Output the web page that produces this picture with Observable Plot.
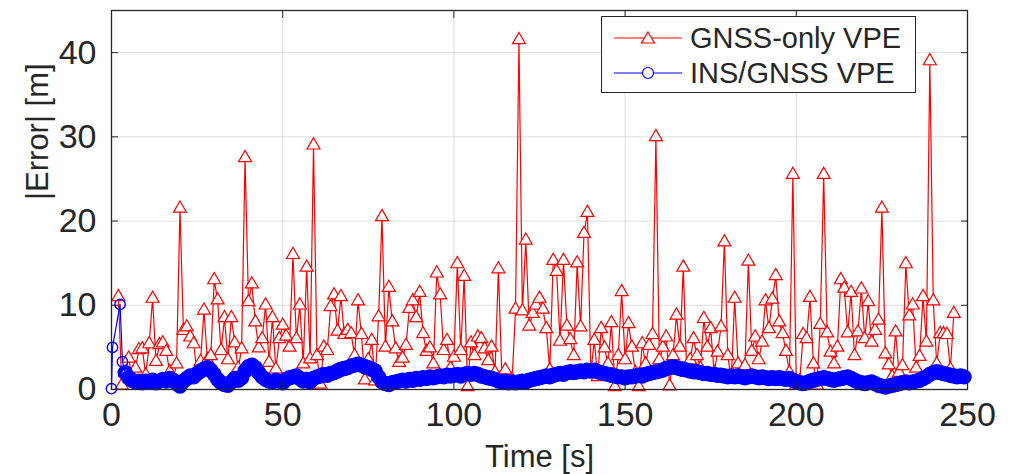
<!DOCTYPE html>
<html><head><meta charset="utf-8">
<script src="https://cdn.jsdelivr.net/npm/d3@7"></script>
<script src="https://cdn.jsdelivr.net/npm/@observablehq/plot@0.6"></script>
<style>
body{margin:0;background:#fff;}
#wrap{position:relative;width:1013px;height:474px;font-family:"Liberation Sans",Arial,Helvetica,sans-serif;}
#legend{position:absolute;left:601px;top:16px;width:313px;height:75px;border:1.5px solid #262626;background:#fff;color:#262626;}
.row{position:absolute;left:0;height:34px;display:flex;align-items:center;}
.row svg{margin-left:12px;}
.row span{font-size:29px;margin-left:8px;white-space:nowrap;}
</style>
</head><body>
<div id="wrap"><div id="legend">
<div class="row" style="top:4px"><svg width="68" height="30"><line x1="0" x2="68" y1="15" y2="15" stroke="#ff0000" stroke-width="1.2"/><path d="M34,9 L40.5,20 L27.5,20 Z" fill="#fff" stroke="#ff0000" stroke-width="1.2"/></svg><span>GNSS-only VPE</span></div>
<div class="row" style="top:39px"><svg width="68" height="30"><line x1="0" x2="68" y1="15" y2="15" stroke="#0000ff" stroke-width="1.2"/><circle cx="34" cy="15" r="5.5" fill="#fff" stroke="#0000ff" stroke-width="1.2"/></svg><span>INS/GNSS VPE</span></div>
</div></div>
<script>
const xTicks = [0, 50, 100, 150, 200, 250];
const yTicks = [0, 10, 20, 30, 40];
const xLabel = "Time [s]";
const yLabel = "|Error| [m]";
const seriesNames = ["GNSS-only VPE", "INS/GNSS VPE"];

// GNSS-only vertical position error, 1 s steps starting at t = 2 s
const redStart = 2;
const redValues = [
 11.0, 0.5, 2.0, 3.7, 1.5, 2.5, 4.7, 4.8, 1.7, 5.4,
 10.8, 3.3, 5.3, 5.5, 4.5, 2.1, 1.2, 3.0, 21.5, 7.0,
 7.4, 6.2, 5.4, 2.0, 3.3, 9.4, 3.5, 4.0, 13.0, 10.6,
 4.6, 8.5, 3.5, 8.5, 5.5, 2.5, 4.8, 27.5, 10.4, 12.5,
 8.0, 4.9, 6.0, 10.0, 3.2, 8.5, 2.4, 6.0, 7.6, 6.3,
 5.0, 16.0, 6.0, 10.0, 3.0, 14.5, 3.6, 29.0, 4.0, 0.6,
 5.0, 4.6, 9.8, 11.2, 6.9, 11.0, 6.5, 7.0, 6.6, 4.0,
 10.5, 6.5, 1.1, 3.5, 5.8, 1.0, 8.6, 20.5, 5.0, 12.1,
 8.0, 4.8, 3.2, 3.7, 5.2, 9.6, 10.5, 8.5, 11.5, 6.6,
 4.5, 4.9, 3.0, 13.8, 11.2, 4.6, 5.8, 2.5, 3.8, 14.9,
 4.6, 13.4, 0.3, 5.5, 4.0, 6.2, 6.0, 4.8, 3.4, 5.0,
 2.0, 14.3, 1.5, 2.3, 0.8, 1.2, 9.5, 41.5, 9.3, 17.7,
 7.5, 9.0, 10.0, 10.8, 9.5, 7.2, 2.3, 15.3, 14.0, 5.7,
 15.3, 7.5, 5.9, 4.0, 15.0, 7.4, 18.5, 21.0, 2.0, 5.8,
 1.5, 7.2, 4.9, 3.0, 7.9, 0.3, 4.0, 11.6, 3.5, 7.8,
 5.0, 2.0, 0.3, 5.4, 3.0, 5.2, 6.5, 30.0, 3.5, 5.0,
 6.2, 0.4, 4.0, 8.8, 5.0, 14.5, 2.0, 3.5, 6.0, 4.0,
 2.5, 8.4, 5.0, 7.2, 2.0, 4.4, 7.4, 17.5, 4.0, 1.2,
 10.8, 3.0, 1.5, 2.8, 15.2, 4.5, 6.2, 3.5, 5.6, 10.5,
 7.2, 10.7, 13.5, 8.0, 6.6, 4.5, 2.0, 25.5, 0.5, 1.0,
 6.5, 6.0, 10.9, 3.0, 0.5, 7.7, 25.5, 6.7, 4.4, 3.0,
 5.0, 13.0, 12.0, 6.7, 11.5, 4.0, 6.8, 11.9, 6.0, 10.4,
 5.6, 7.0, 8.2, 21.5, 4.2, 2.9, 1.5, 6.8, 2.0, 2.8,
 14.9, 8.7, 10.0, 2.5, 3.9, 11.0, 5.6, 39.0, 10.5, 3.0,
 6.6, 6.6, 6.5, 2.4, 9.0
];

// INS/GNSS vertical position error: initial transient, then 1 s steps from t = 4 s
const blueHeadTimes = [0, 0.3, 2.5, 3.2];
const blueHeadValues = [0.1, 5.0, 10.1, 3.3];
const blueStart = 4;
const blueValues = [
 2.0, 1.4, 1.1, 0.9, 1.0, 0.8, 1.0, 0.9, 1.1, 0.8,
 1.0, 1.2, 1.0, 1.3, 1.1, 0.7, 0.4, 1.0, 1.3, 1.6,
 1.5, 1.9, 2.2, 2.4, 2.6, 2.3, 1.8, 1.2, 0.8, 0.6,
 0.5, 0.9, 1.3, 1.1, 1.4, 2.2, 2.7, 2.9, 2.6, 2.0,
 1.5, 1.2, 1.0, 0.9, 1.1, 1.0, 0.8, 1.2, 1.4, 1.5,
 1.6, 1.3, 1.0, 1.2, 0.9, 1.3, 1.5, 1.6, 1.8, 1.7,
 1.9, 2.0, 2.2, 2.4, 2.5, 2.6, 2.8, 2.9, 3.0, 2.9,
 2.7, 2.6, 2.4, 2.2, 1.5, 0.9, 0.7, 0.6, 0.8, 0.9,
 1.0, 1.1, 1.0, 1.2, 1.1, 1.3, 1.2, 1.4, 1.3, 1.5,
 1.4, 1.5, 1.6, 1.5, 1.7, 1.6, 1.7, 1.8, 1.6, 1.8,
 1.9, 1.8, 1.9, 1.8, 1.6, 1.5, 1.4, 1.3, 1.2, 1.0,
 0.9, 1.0, 0.8, 0.9, 0.8, 0.9, 1.0, 0.9, 1.1, 1.2,
 1.3, 1.4, 1.5, 1.6, 1.5, 1.7, 1.8, 1.9, 1.8, 2.0,
 2.1, 2.0, 2.1, 2.2, 2.1, 2.3, 2.2, 2.3, 2.1, 2.0,
 1.9, 1.8, 1.7, 1.6, 1.5, 1.5, 1.4, 1.5, 1.5, 1.6,
 1.7, 1.6, 1.8, 1.9, 2.0, 2.1, 2.2, 2.3, 2.5, 2.6,
 2.7, 2.6, 2.5, 2.4, 2.3, 2.2, 2.1, 2.1, 2.0, 1.9,
 1.9, 1.8, 1.8, 1.7, 1.7, 1.6, 1.5, 1.6, 1.5, 1.6,
 1.5, 1.4, 1.5, 1.6, 1.5, 1.4, 1.5, 1.4, 1.3, 1.4,
 1.3, 1.4, 1.3, 1.2, 1.3, 1.1, 0.9, 0.8, 0.7, 0.8,
 1.0, 1.1, 1.2, 1.3, 1.4, 1.3, 1.2, 1.1, 1.2, 1.3,
 1.4, 1.5, 1.3, 1.1, 0.9, 0.8, 0.7, 0.8, 0.9, 0.7,
 0.5, 0.4, 0.3, 0.4, 0.5, 0.6, 0.7, 0.8, 0.9, 0.8,
 0.9, 1.0, 1.1, 1.3, 1.5, 1.8, 2.0, 2.1, 2.0, 1.9,
 1.8, 1.7, 1.6, 1.5, 1.6, 1.5
];

const red = redValues.map((v, i) => ({t: redStart + i, v}));
const blueHead = blueHeadTimes.map((t, i) => ({t, v: blueHeadValues[i]}));
const blueBody = blueValues.map((v, i) => ({t: blueStart + i, v}));
const blue = blueHead.concat(blueBody);

const axisColor = "#262626";
const fontFamily = '"Liberation Sans", Arial, Helvetica, sans-serif';
const chart = Plot.plot({
  width: 1013,
  height: 474,
  marginLeft: 111,
  marginRight: 46,
  marginTop: 10,
  marginBottom: 85,
  style: {fontFamily, fontSize: "34px", color: axisColor, background: "#fff"},
  x: {domain: [0, 250]},
  y: {domain: [0, 45]},
  marks: [
    Plot.gridX(xTicks, {stroke: "#000", strokeOpacity: 0.13, strokeWidth: 1}),
    Plot.gridY(yTicks, {stroke: "#000", strokeOpacity: 0.13, strokeWidth: 1}),
    Plot.line(red, {x: "t", y: "v", stroke: "#ff0000", strokeWidth: 1.2}),
    Plot.dot(red, {x: "t", y: "v", symbol: "triangle", r: 4.8, stroke: "#ff0000", fill: "#fff", strokeWidth: 1.2}),
    Plot.line(blue, {x: "t", y: "v", stroke: "#0000ff", strokeWidth: 1.2}),
    Plot.dot(blueBody, {x: "t", y: "v", symbol: "circle", r: 5.2, stroke: "#0000ff", fill: "none", strokeWidth: 5}),
    Plot.dot(blueHead, {x: "t", y: "v", symbol: "circle", r: 5.2, stroke: "#0000ff", fill: "none", strokeWidth: 1.4}),
    Plot.frame({stroke: axisColor, strokeWidth: 1.3}),
    Plot.axisX({ticks: xTicks, tickSize: -7, tickPadding: 19, tickFormat: d => String(d), stroke: axisColor, label: null}),
    Plot.axisX({anchor: "top", ticks: xTicks, tickSize: -7, tickFormat: () => "", label: null, stroke: axisColor}),
    Plot.axisY({ticks: yTicks, tickSize: -7, tickPadding: 22, tickFormat: d => String(d), stroke: axisColor, label: null}),
    Plot.axisY({anchor: "right", ticks: yTicks, tickSize: -7, tickFormat: () => "", label: null, stroke: axisColor}),
    Plot.text([xLabel], {frameAnchor: "bottom", dy: 77, fontSize: 31, fill: axisColor}),
    Plot.text([yLabel], {frameAnchor: "left", rotate: -90, dx: -73, fontSize: 31, fill: axisColor})
  ]
});
document.getElementById("wrap").prepend(chart);
chart.style.position = "absolute";
chart.style.left = "0";
chart.style.top = "0";
</script>
</body></html>
